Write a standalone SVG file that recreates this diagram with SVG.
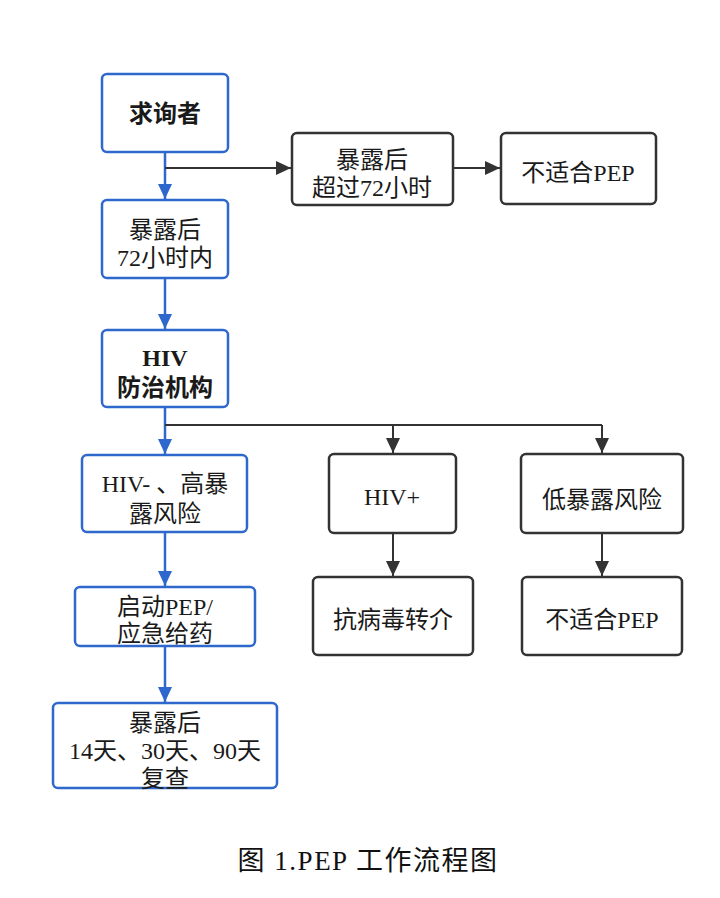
<svg xmlns="http://www.w3.org/2000/svg" width="720" height="898" viewBox="0 0 720 898">
<defs>
<marker id="ab" markerUnits="userSpaceOnUse" markerWidth="16" markerHeight="16" refX="15" refY="7" orient="auto"><path d="M0,0 L15,7 L0,14 Z" fill="#2f68cc"/></marker>
<marker id="ak" markerUnits="userSpaceOnUse" markerWidth="16" markerHeight="16" refX="15" refY="7" orient="auto"><path d="M0,0 L15,7 L0,14 Z" fill="#333333"/></marker>
<style>
.bb{fill:#fff;stroke:#2f68cc;stroke-width:2.5}
.kb{fill:#fff;stroke:#333333;stroke-width:2.5}
.t{font-family:"Liberation Serif","Noto Sans CJK SC",serif;font-size:24px;fill:#1a1a1a;text-anchor:middle}
.b{font-weight:bold}
.lb{fill:none;stroke:#2f68cc;stroke-width:2.5}
.lk{fill:none;stroke:#333333;stroke-width:2}
</style>
</defs>
<rect width="720" height="898" fill="#fff"/>
<g id="connectors">
<path class="lb" d="M165,152 V199" marker-end="url(#ab)"/>
<path class="lk" d="M165,168 H291" marker-end="url(#ak)"/>
<path class="lk" d="M453,168 H500" marker-end="url(#ak)"/>
<path class="lb" d="M165,278 V329" marker-end="url(#ab)"/>
<path class="lb" d="M165,407 V454" marker-end="url(#ab)"/>
<path class="lk" d="M165,425 H602"/>
<path class="lk" d="M393,425 V453" marker-end="url(#ak)"/>
<path class="lk" d="M602,425 V453" marker-end="url(#ak)"/>
<path class="lb" d="M165,532 V586" marker-end="url(#ab)"/>
<path class="lk" d="M393,533 V576" marker-end="url(#ak)"/>
<path class="lk" d="M602,533 V576" marker-end="url(#ak)"/>
<path class="lb" d="M165,646 V702" marker-end="url(#ab)"/>
</g>
<g id="n1"><rect class="bb" x="102" y="74" width="126" height="78" rx="5"/><text class="t b" x="165" y="122">求询者</text></g>
<g id="n2"><rect class="bb" x="102" y="200" width="126" height="78" rx="5"/><text class="t" x="165" y="238">暴露后</text><text class="t" x="165" y="266">72小时内</text></g>
<g id="n3"><rect class="kb" x="292" y="133" width="161" height="72" rx="5"/><text class="t" x="372" y="168">暴露后</text><text class="t" x="372" y="196">超过72小时</text></g>
<g id="n4"><rect class="kb" x="501" y="133" width="155" height="71" rx="5"/><text class="t" x="578" y="181">不适合PEP</text></g>
<g id="n5"><rect class="bb" x="102" y="330" width="126" height="77" rx="5"/><text class="t b" x="165" y="366">HIV</text><text class="t b" x="165" y="396">防治机构</text></g>
<g id="n6"><rect class="bb" x="82" y="455" width="165" height="77" rx="5"/><text class="t" x="165" y="492">HIV- 、高暴</text><text class="t" x="165" y="522">露风险</text></g>
<g id="n7"><rect class="kb" x="329" y="454" width="127" height="79" rx="5"/><text class="t" x="392" y="505">HIV+</text></g>
<g id="n8"><rect class="kb" x="521" y="454" width="162" height="79" rx="5"/><text class="t" x="602" y="508">低暴露风险</text></g>
<g id="n9"><rect class="bb" x="75" y="587" width="180" height="59" rx="5"/><text class="t" x="165" y="615">启动PEP/</text><text class="t" x="165" y="642">应急给药</text></g>
<g id="n10"><rect class="kb" x="313" y="577" width="160" height="78" rx="5"/><text class="t" x="393" y="628">抗病毒转介</text></g>
<g id="n11"><rect class="kb" x="522" y="577" width="160" height="78" rx="5"/><text class="t" x="602" y="628">不适合PEP</text></g>
<g id="n12"><rect class="bb" x="53" y="703" width="224" height="85" rx="5"/><text class="t" x="165" y="731">暴露后</text><text class="t" x="165" y="759">14天、30天、90天</text><text class="t" x="165" y="787">复查</text></g>
<text x="368" y="870" style="font-family:'Liberation Serif','Noto Sans CJK SC',serif;font-size:27px;letter-spacing:1.5px;fill:#111;text-anchor:middle">图 1.PEP 工作流程图</text>
</svg>
